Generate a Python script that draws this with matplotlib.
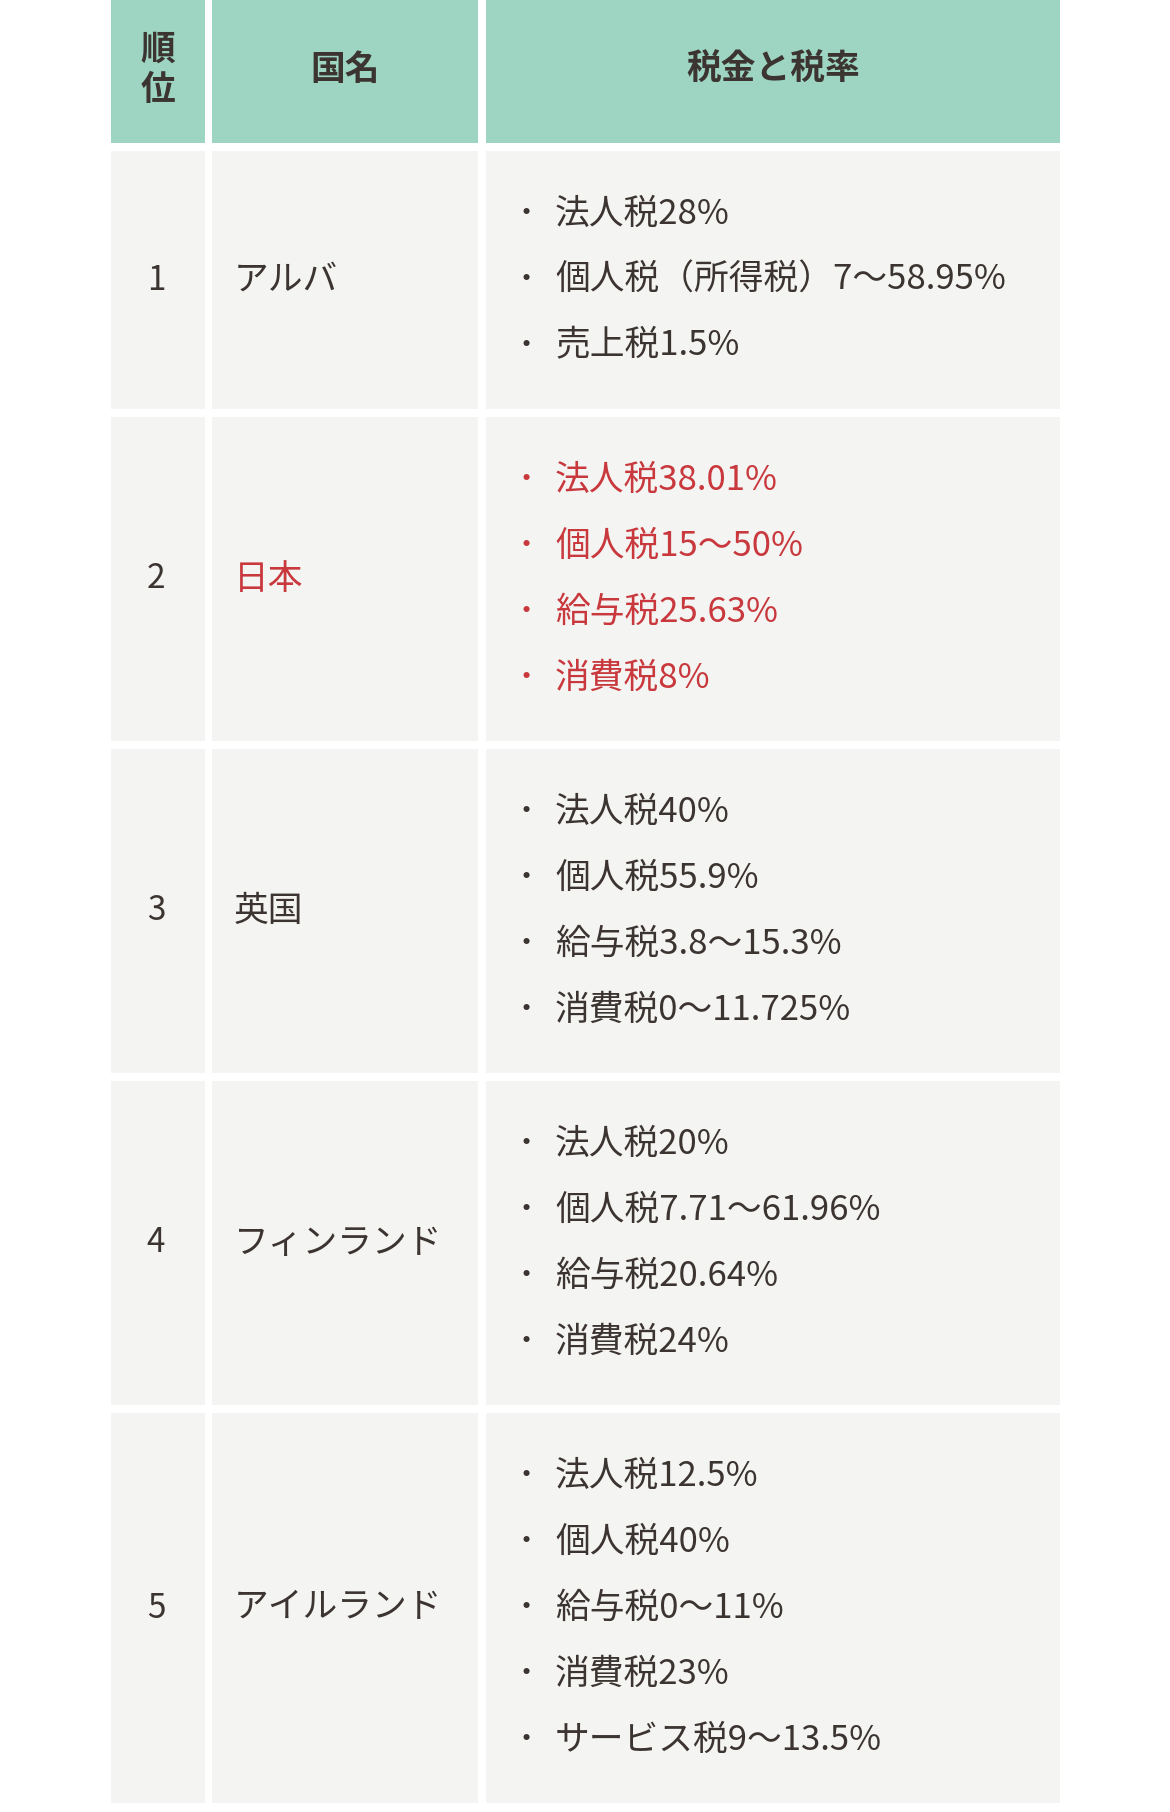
import matplotlib
matplotlib.use("Agg")
from matplotlib import pyplot as plt
from matplotlib.patches import Rectangle

plt.rcParams['font.family'] = ['Noto Sans CJK JP', 'DejaVu Sans']

# table data
headers = ["順\n位", "国名", "税金と税率"]
ranks = ["1", "2", "3", "4", "5"]
countries = ["アルバ", "日本", "英国", "フィンランド", "アイルランド"]
taxes = [
    ["法人税28%", "個人税（所得税）7〜58.95%", "売上税1.5%"],
    ["法人税38.01%", "個人税15〜50%", "給与税25.63%", "消費税8%"],
    ["法人税40%", "個人税55.9%", "給与税3.8〜15.3%", "消費税0〜11.725%"],
    ["法人税20%", "個人税7.71〜61.96%", "給与税20.64%", "消費税24%"],
    ["法人税12.5%", "個人税40%", "給与税0〜11%", "消費税23%", "サービス税9〜13.5%"],
]
highlight = [False, True, False, False, False]

# colors
head_bg = "#9dd4c2"
cell_bg = "#f4f4f3"
txt = "#3b3431"
red = "#c8383c"

# layout (pixels)
W, H = 1170, 1812
cols = [(111, 205), (212, 478), (486, 1060)]
head_h = 143
gap = 8
line_h = 66
pad = 60

fig = plt.figure(figsize=(W / 100, H / 100), dpi=100)
ax = fig.add_axes([0, 0, 1, 1])
ax.set_xlim(0, W)
ax.set_ylim(H, 0)
ax.axis("off")

# header
for (x0, x1), h in zip(cols, headers):
    ax.add_patch(Rectangle((x0, 0), x1 - x0, head_h, color=head_bg, lw=0))
    ax.text((x0 + x1) / 2, head_h / 2 - 2, h, ha="center", va="center",
            fontsize=25, fontweight="bold", color=txt, linespacing=1.2)

# body rows
y = head_h + gap
for i in range(len(ranks)):
    n = len(taxes[i])
    rh = line_h * n + pad
    for x0, x1 in cols:
        ax.add_patch(Rectangle((x0, y), x1 - x0, rh, color=cell_bg, lw=0))
    c = red if highlight[i] else txt
    yc = y + rh / 2
    ax.text(156, yc, ranks[i], ha="center", va="center", fontsize=24, color=txt)
    ax.text(234, yc, countries[i], ha="left", va="center", fontsize=25, color=c)
    for k, item in enumerate(taxes[i]):
        yy = yc + (k - (n - 1) / 2) * line_h
        ax.text(526, yy, "・", ha="center", va="center", fontsize=21, color=c)
        ax.text(555, yy, item, ha="left", va="center", fontsize=25, color=c)
    y += rh + gap

fig.savefig("out.png", dpi=100, facecolor="white")
